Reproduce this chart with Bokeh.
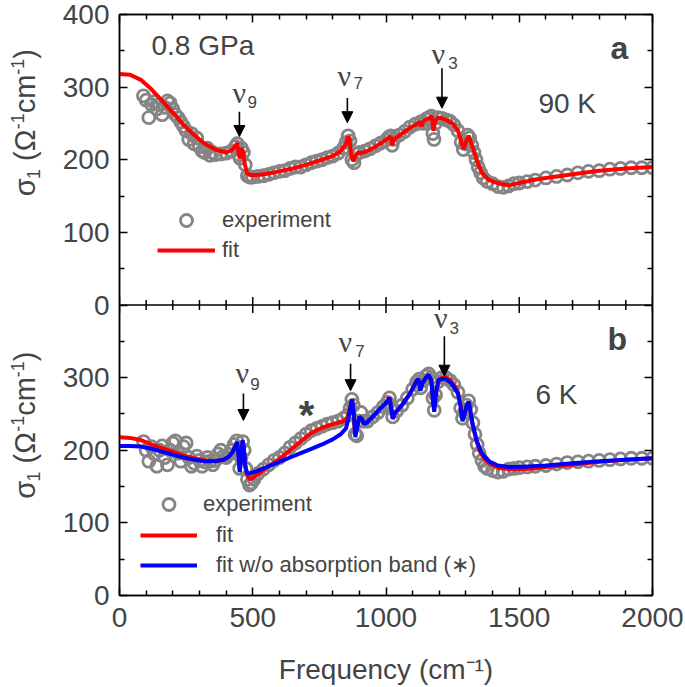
import math
from bokeh.plotting import figure
from bokeh.layouts import row
from bokeh.models import (Range1d, LinearAxis, FixedTicker, Label, Arrow, NormalHead,
                          Legend, LegendItem, Span)
from bokeh.embed import file_html
from bokeh.resources import INLINE

# ---------------- data ----------------
# panel a: 0.8 GPa, 90 K
fit_a_x = [0, 40, 80, 120, 160, 200, 240, 280, 320, 360, 400, 420, 435, 442, 447, 452, 458, 463,
           470, 478, 490, 520, 560, 600, 650, 700, 750, 800, 830, 850, 858, 863, 870, 878, 885,
           895, 905, 930, 960, 990, 1010, 1018, 1023, 1030, 1060, 1090, 1120, 1128, 1133, 1140,
           1150, 1165, 1172, 1178, 1184, 1195, 1210, 1230, 1250, 1270, 1285, 1292, 1300, 1310,
           1318, 1330, 1345, 1360, 1380, 1400, 1430, 1460, 1500, 1550, 1600, 1700, 1800, 1900, 2000]
fit_a_y = [318, 317, 310, 297, 281, 265, 248, 234, 222, 214, 210, 213, 219, 223, 208, 202, 216, 212,
           195, 182, 179, 179, 181, 184, 188, 193, 199, 205, 212, 222, 232, 228, 205, 198, 205,
           210, 209, 212, 218, 225, 230, 232, 220, 228, 236, 244, 250, 252, 246, 253,
           255, 258, 260, 240, 252, 258, 257, 254, 250, 240, 222, 215, 225, 233,
           225, 212, 195, 182, 174, 170, 167, 165, 168, 172, 175, 180, 185, 188, 190]

exp_a_x = [90, 100, 110, 120, 130, 140, 150, 160, 170, 180, 190, 200, 210, 220, 230, 240, 250, 260,
           270, 280, 290, 300, 310, 320, 330, 340, 350, 360, 380, 400, 420, 435, 442, 447, 452, 458,
           465, 472, 480, 490, 500, 520, 540, 560, 580, 600, 620, 640, 660, 680, 700, 720, 740, 760,
           780, 800, 820, 840, 850, 858, 865, 872, 880, 890, 900, 920, 940, 960, 980, 1000, 1010,
           1018, 1023, 1030, 1050, 1070, 1090, 1110, 1130, 1140, 1150, 1160, 1170, 1176, 1180, 1185,
           1195, 1210, 1225, 1240, 1255, 1270, 1282, 1290, 1298, 1306, 1314, 1322, 1330, 1338, 1346,
           1355, 1365, 1380, 1400, 1420, 1440, 1460, 1480, 1500, 1530, 1560, 1600, 1640, 1680, 1720,
           1760, 1800, 1840, 1880, 1920, 1960, 2000]
exp_a_y = [288, 282, 258, 276, 280, 270, 276, 262, 272, 281, 278, 270, 262, 258, 252, 246, 240, 228,
           236, 222, 230, 218, 212, 210, 216, 206, 210, 207, 208, 209, 212, 218, 222, 207, 202, 216,
           210, 193, 178, 176, 176, 177, 178, 180, 182, 184, 185, 188, 190, 190, 193, 196, 198, 200,
           203, 205, 209, 216, 224, 233, 226, 200, 196, 208, 210, 212, 215, 219, 223, 227, 231,
           233, 220, 228, 234, 239, 245, 249, 252, 250, 256, 258, 260, 236, 228, 250,
           258, 257, 255, 253, 248, 240, 224, 214, 222, 234, 230, 220, 210, 200, 190,
           182, 175, 170, 167, 163, 162, 164, 167, 168, 170, 172, 175, 177, 179, 182,
           184, 185, 187, 188, 189, 189, 189]

# panel b: 6 K
fit_b_x = [0, 40, 80, 120, 160, 200, 240, 280, 320, 360, 390, 410, 425, 435, 441, 446, 450, 455, 461,
           466, 472, 480, 490, 500, 530, 560, 600, 640, 680, 700, 720, 760, 800, 840, 855, 865, 872,
           878, 884, 890, 900, 910, 916, 925, 950, 980, 1000, 1013, 1020, 1025, 1035, 1060, 1090,
           1110, 1118, 1124, 1129, 1136, 1150, 1160, 1170, 1177, 1182, 1188, 1197, 1210, 1222, 1240,
           1255, 1270, 1280, 1287, 1295, 1303, 1310, 1316, 1325, 1340, 1355, 1370, 1390, 1420, 1460,
           1500, 1550, 1600, 1700, 1800, 1900, 2000]
fit_b_y = [218, 217, 214, 208, 203, 198, 193, 189, 186, 185, 187, 191, 198, 206, 212, 200, 175, 185, 213,
           205, 180, 164, 160, 162, 170, 178, 188, 200, 212, 218, 224, 231, 236, 240, 245, 258, 270,
           255, 222, 230, 246, 243, 238, 238, 246, 258, 265, 273, 258, 244, 252, 262, 278,
           292, 298, 296, 284, 292, 300, 303, 296, 270, 258, 280, 294, 300, 301, 297,
           290, 280, 262, 242, 250, 262, 266, 255, 235, 212, 196, 188, 181, 176, 174,
           174, 175, 177, 180, 184, 187, 189]

fitwo_b_x = [0, 40, 80, 120, 160, 200, 240, 280, 320, 360, 390, 410, 425, 435, 441, 446, 451, 456, 462,
             467, 473, 480, 490, 520, 560, 600, 640, 680, 720, 760, 800, 830, 850, 860, 868, 873,
             879, 885, 892, 900, 910, 916, 925, 950, 980, 1000, 1013, 1020, 1025, 1035, 1060, 1090,
             1110, 1118, 1124, 1129, 1136, 1150, 1160, 1170, 1177, 1181, 1188, 1197, 1210, 1222, 1240,
             1255, 1270, 1280, 1287, 1295, 1303, 1310, 1316, 1325, 1340, 1355, 1370, 1390, 1420, 1460,
             1500, 1550, 1600, 1700, 1800, 1900, 2000]
fitwo_b_y = [206, 206, 205, 202, 198, 194, 190, 187, 185, 185, 187, 191, 198, 205, 211, 195, 170, 185, 214,
             200, 175, 168, 168, 172, 178, 184, 190, 196, 202, 208, 215, 222, 230, 245, 262, 270,
             250, 218, 232, 246, 243, 237, 237, 246, 258, 265, 272, 257, 243, 252, 262, 278,
             292, 298, 295, 282, 292, 300, 304, 296, 265, 253, 280, 297, 298, 298, 294,
             287, 278, 260, 240, 250, 262, 267, 256, 236, 214, 199, 191, 184, 179, 177,
             177, 178, 179, 182, 185, 187, 189]

exp_b_x = [90, 100, 110, 120, 130, 140, 150, 160, 170, 180, 190, 200, 210, 220, 230, 240, 250, 260,
           270, 280, 290, 300, 310, 320, 330, 340, 350, 360, 370, 380, 390, 400, 410, 420, 430, 440,
           446, 451, 456, 462, 468, 474, 480, 488, 495, 505, 520, 540, 560, 580, 600, 620, 640, 660,
           680, 700, 720, 740, 760, 780, 800, 820, 840, 855, 865, 872, 878, 884, 890, 898, 906, 915,
           930, 950, 970, 990, 1005, 1013, 1020, 1025, 1040, 1060, 1080, 1100, 1115, 1125, 1130,
           1140, 1150, 1160, 1170, 1176, 1181, 1186, 1195, 1210, 1225, 1240, 1255, 1270, 1280, 1287,
           1294, 1302, 1310, 1318, 1326, 1334, 1342, 1350, 1360, 1370, 1380, 1400, 1420, 1440, 1460,
           1480, 1500, 1530, 1560, 1600, 1640, 1680, 1720, 1760, 1800, 1840, 1880, 1920, 1960, 2000]
exp_b_y = [212, 200, 185, 205, 195, 178, 200, 206, 190, 180, 200, 210, 213, 196, 185, 205, 210, 190,
           178, 182, 192, 186, 178, 184, 190, 185, 180, 186, 195, 200, 192, 190, 194, 200, 208, 213,
           200, 175, 190, 212, 200, 175, 160, 152, 155, 160, 168, 174, 180, 186, 190, 196, 204, 210,
           216, 222, 227, 230, 233, 236, 238, 240, 244, 248, 258, 270, 262, 222, 220, 240, 252, 240,
           240, 246, 252, 260, 266, 272, 258, 246, 254, 262, 272, 284, 294, 298, 286,
           296, 302, 305, 300, 272, 255, 276, 294, 300, 300, 296, 290, 280, 258, 244,
           252, 262, 268, 256, 238, 222, 208, 196, 186, 178, 175, 172, 170, 171, 174,
           175, 176, 177, 178, 179, 181, 183, 184, 185, 186, 187, 188, 189, 189, 189]

x_major = [0, 500, 1000, 1500, 2000]
x_minor = [100, 200, 300, 400, 600, 700, 800, 900, 1100, 1200, 1300, 1400, 1600, 1700, 1800, 1900]
# left axis: panel b occupies 0..400, panel a sits on top of it (its 0 = 400 here)
y_ticks = [0, 100, 200, 300, 400, 500, 600, 700, 800]
y_tick_labels = ["0", "100", "200", "300", "0", "100", "200", "300", "400"]
y_minor = [50, 150, 250, 350, 450, 550, 650, 750]

# mode markers: (subscript, arrow x, arrow start y, arrow tip y, nu x, nu y, sub x, sub y)
modes_a = [("9", 450, 266, 232, 424, 292, 480, 279),
           ("7", 855, 285, 251, 818, 316, 878, 305),
           ("3", 1210, 326, 271, 1171, 346, 1234, 333)]
modes_b = [("9", 465, 278, 241, 435, 307, 491, 291),
           ("7", 867, 319, 282, 822, 350, 885, 336),
           ("3", 1219, 357, 302, 1180, 383, 1238, 369)]

# y-axis title pieces: (text, role, gap before in em, advance in em)
ytitle_pieces = [("\u03c3", "main", 0.0, 0.60), ("1", "sub", 0.0, 0.556),
                 ("(\u03a9", "main", 0.278, 1.101), ("-1", "sup", 0.0, 0.889),
                 ("cm", "main", 0.0, 1.333), ("-1", "sup", 0.0, 0.889), (")", "main", 0.0, 0.333)]

FONT = "Liberation Sans"
GRAY = "#858585"
RED = "#ff0000"
BLUE = "#0000ff"
MAJ_IN, MIN_IN = 8, 5
LABEL_W = 48
PX_PER_UNIT = 583 / 800

p = figure(width=685 - LABEL_W, height=687, x_range=Range1d(0, 2000), y_range=Range1d(-400, 400),
           output_backend="svg", toolbar_location=None,
           x_axis_location=None, y_axis_location=None,
           min_border_left=119 - LABEL_W, min_border_right=33, min_border_top=14, min_border_bottom=90)
p.extra_y_ranges = {"b": Range1d(0, 800)}
p.xgrid.visible = False
p.ygrid.visible = False
p.outline_line_color = "black"
p.outline_line_width = 1.5
p.background_fill_color = "white"
p.border_fill_color = "white"


def style(ax, major, minor, show):
    ax.ticker = FixedTicker(ticks=major, minor_ticks=minor)
    ax.major_tick_in = MAJ_IN
    ax.major_tick_out = 0
    ax.minor_tick_in = MIN_IN
    ax.minor_tick_out = 0
    ax.axis_line_width = 1.5
    ax.major_tick_line_width = 1.5
    ax.minor_tick_line_width = 1.5
    ax.major_label_text_font = FONT
    ax.major_label_text_font_size = "28px"
    ax.major_label_standoff = 10
    if not show:
        ax.major_label_text_color = None
        ax.major_label_standoff = 0


xb = LinearAxis()
style(xb, x_major, x_minor, True)
xb.major_label_standoff = 12
xb.axis_label = "Frequency (cm\u207b\u00b9)"
xb.axis_label_text_font = FONT
xb.axis_label_text_font_size = "28px"
xb.axis_label_text_font_style = "normal"
xb.axis_label_standoff = 24
p.add_layout(xb, "below")

xt = LinearAxis()
style(xt, x_major, x_minor, False)
p.add_layout(xt, "above")

yl = LinearAxis(y_range_name="b")
style(yl, y_ticks, y_minor, True)
yl.major_label_overrides = {t: s for t, s in zip(y_ticks, y_tick_labels)}
p.add_layout(yl, "left")

yr = LinearAxis(y_range_name="b")
style(yr, y_ticks, y_minor, False)
p.add_layout(yr, "right")

# boundary between the two panels (panel a's zero line) with inward ticks on both sides
p.add_layout(Span(location=0, dimension="width", line_color="black", line_width=1.5))
maj_len = MAJ_IN / PX_PER_UNIT
min_len = MIN_IN / PX_PER_UNIT
p.segment(x0=x_major, y0=[-maj_len] * len(x_major), x1=x_major, y1=[maj_len] * len(x_major),
          line_color="black", line_width=1.5)
p.segment(x0=x_minor, y0=[-min_len] * len(x_minor), x1=x_minor, y1=[min_len] * len(x_minor),
          line_color="black", line_width=1.5)

# ---------------- panel a (default y range) ----------------
ra_exp = p.scatter(exp_a_x, exp_a_y, marker="circle", size=12, fill_alpha=0,
                   line_color=GRAY, line_width=2.8)
ra_fit = p.line(fit_a_x, fit_a_y, line_color=RED, line_width=4)

# ---------------- panel b (y range "b") ----------------
rb_exp = p.scatter(exp_b_x, exp_b_y, marker="circle", size=12, fill_alpha=0,
                   line_color=GRAY, line_width=2.8, y_range_name="b")
rb_fit = p.line(fit_b_x, fit_b_y, line_color=RED, line_width=4, y_range_name="b")
rb_wo = p.line(fitwo_b_x, fitwo_b_y, line_color=BLUE, line_width=4, y_range_name="b")


def add_modes(modes, rname):
    for sub, ax_, ys, ye, nx, ny, sx, sy in modes:
        p.add_layout(Arrow(end=NormalHead(size=11, fill_color="black", line_color="black", line_width=1),
                           x_start=ax_, y_start=ys, x_end=ax_, y_end=ye, y_range_name=rname,
                           line_color="black", line_width=1.6))
        p.add_layout(Label(x=nx, y=ny, text="\u03bd", text_font="Liberation Serif", y_range_name=rname,
                           text_font_size="30px", text_align="left", text_baseline="alphabetic"))
        p.add_layout(Label(x=sx, y=sy, text=sub, text_font=FONT, y_range_name=rname,
                           text_font_size="17px", text_align="left", text_baseline="alphabetic"))


def txt(x, y, s, rname="default", size="28px", style_="normal", align="left"):
    p.add_layout(Label(x=x, y=y, text=s, text_font=FONT, text_font_size=size, y_range_name=rname,
                       text_font_style=style_, text_align=align, text_baseline="alphabetic"))


add_modes(modes_a, "default")
add_modes(modes_b, "b")
txt(120, 357, "0.8 GPa")
txt(1842, 354, "a", size="32px", style_="bold")
txt(1572, 277, "90 K")
txt(1831, 353, "b", "b", size="32px", style_="bold")
txt(1561, 277, "6 K", "b")
txt(702, 248, "*", "b", size="40px", style_="bold", align="center")

# ---------------- legends ----------------
leg_a = Legend(items=[LegendItem(label="experiment", renderers=[ra_exp]),
                      LegendItem(label="fit", renderers=[ra_fit])],
               location=(38, 330))
leg_b1 = Legend(items=[LegendItem(label="experiment", renderers=[rb_exp])],
                location=(21, 76))
leg_b2 = Legend(items=[LegendItem(label="fit", renderers=[rb_fit]),
                       LegendItem(label="fit w/o absorption band (\u2217)", renderers=[rb_wo])],
                location=(21, 15))
for lg, gw, st in [(leg_a, 58, 7), (leg_b1, 57, 6), (leg_b2, 57, 19)]:
    lg.border_line_alpha = 0
    lg.background_fill_alpha = 0
    lg.padding = 0
    lg.margin = 0
    lg.spacing = 0
    lg.glyph_width = gw
    lg.glyph_height = 30
    lg.label_height = 30
    lg.label_standoff = st
    lg.label_text_font = FONT
    lg.label_text_font_size = "22px"
    p.add_layout(lg, "center")

# ---------------- strip on the left holding the two rotated y-axis titles ----------------
side = figure(width=LABEL_W, height=687, x_range=Range1d(0, LABEL_W), y_range=p.y_range,
              output_backend="svg", toolbar_location=None,
              x_axis_location=None, y_axis_location=None,
              min_border_left=0, min_border_right=0, min_border_top=14, min_border_bottom=90)
side.extra_y_ranges = {"b": p.extra_y_ranges["b"]}
side.xgrid.visible = False
side.ygrid.visible = False
side.outline_line_color = None
side.background_fill_color = "white"
side.border_fill_color = "white"

role_size = {"main": 29, "sub": 18, "sup": 18}
role_x = {"main": 24, "sub": 33, "sup": 17}   # x of the em-box middle, in px of the strip
# start (bottom end) of each title, in that panel's data units
for start, rname in ((149.6, "default"), (133.1, "b")):
    pos = start
    for text, role, gap, adv in ytitle_pieces:
        fs = role_size[role]
        pos += gap * fs / PX_PER_UNIT
        side.add_layout(Label(x=role_x[role], y=pos, y_range_name=rname, text=text,
                              text_font=FONT, text_font_size=f"{fs}px", angle=math.pi / 2,
                              text_align="left", text_baseline="middle"))
        pos += adv * fs / PX_PER_UNIT

layout = row(side, p, spacing=0)
open("out.html", "w").write(file_html(layout, INLINE))
